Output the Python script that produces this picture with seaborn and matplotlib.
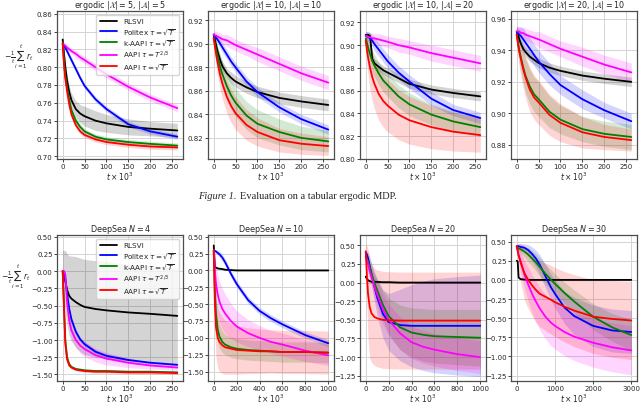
import matplotlib
matplotlib.use("Agg")
import matplotlib.pyplot as plt
import seaborn as sns
from matplotlib.ticker import MultipleLocator

# x grids (t x 10^3)
erg_x = [0, 3, 6, 10, 15, 20, 30, 40, 50, 75, 100, 150, 200, 262]
ds4_x = [0, 3, 6, 10, 15, 20, 30, 40, 50, 75, 100, 150, 200, 262]
ds10_x = [0, 10, 20, 35, 50, 75, 100, 150, 200, 300, 400, 500, 600, 800, 1000]
ds20_x = [0, 10, 20, 35, 50, 75, 100, 150, 200, 300, 400, 500, 600, 800, 1000]
ds30_x = [0, 25, 50, 100, 200, 300, 400, 500, 600, 750, 900, 1000, 1250, 1500, 2000, 2500, 3000]

methods = ["RLSVI", r"Politex $\tau=\sqrt{T}$", r"k-AAPI $\tau=\sqrt{T}$",
           r"AAPI $\tau=T^{2/3}$", r"AAPI $\tau=\sqrt{T}$"]
colors = ["black", "blue", "green", "magenta", "red"]

# ergodic |X|=5, |A|=5
e1_rlsvi = [0.831, 0.815, 0.800, 0.785, 0.772, 0.763, 0.753, 0.748, 0.745, 0.740, 0.737, 0.733, 0.731, 0.729]
e1_rlsvi_sd = [0.003, 0.004, 0.005, 0.006, 0.007, 0.008, 0.009, 0.010, 0.011, 0.011, 0.010, 0.009, 0.008, 0.008]
e1_politex = [0.826, 0.824, 0.822, 0.818, 0.813, 0.808, 0.798, 0.788, 0.779, 0.764, 0.753, 0.736, 0.728, 0.722]
e1_politex_sd = [0.002, 0.003, 0.003, 0.003, 0.003, 0.003, 0.003, 0.003, 0.003, 0.003, 0.003, 0.003, 0.003, 0.003]
e1_kaapi = [0.828, 0.805, 0.790, 0.777, 0.763, 0.752, 0.740, 0.733, 0.728, 0.722, 0.719, 0.716, 0.714, 0.712]
e1_kaapi_sd = [0.003, 0.004, 0.004, 0.004, 0.004, 0.004, 0.004, 0.004, 0.003, 0.003, 0.003, 0.003, 0.003, 0.003]
e1_aapi23 = [0.826, 0.825, 0.824, 0.822, 0.820, 0.818, 0.815, 0.811, 0.808, 0.800, 0.792, 0.778, 0.766, 0.754]
e1_aapi23_sd = [0.003, 0.003, 0.003, 0.003, 0.003, 0.003, 0.004, 0.004, 0.004, 0.004, 0.004, 0.004, 0.004, 0.004]
e1_aapi = [0.827, 0.803, 0.787, 0.773, 0.758, 0.747, 0.735, 0.728, 0.724, 0.719, 0.716, 0.713, 0.711, 0.710]
e1_aapi_sd = [0.003, 0.004, 0.004, 0.004, 0.004, 0.004, 0.003, 0.003, 0.003, 0.003, 0.003, 0.003, 0.003, 0.003]

# ergodic |X|=10, |A|=10
e2_rlsvi = [0.908, 0.903, 0.898, 0.892, 0.886, 0.881, 0.875, 0.871, 0.868, 0.863, 0.859, 0.854, 0.851, 0.848]
e2_rlsvi_sd = [0.003, 0.003, 0.003, 0.004, 0.004, 0.004, 0.004, 0.005, 0.005, 0.005, 0.005, 0.005, 0.005, 0.005]
e2_politex = [0.907, 0.906, 0.905, 0.903, 0.900, 0.897, 0.891, 0.885, 0.880, 0.868, 0.859, 0.846, 0.836, 0.827]
e2_politex_sd = [0.003, 0.003, 0.003, 0.003, 0.004, 0.004, 0.004, 0.004, 0.004, 0.004, 0.004, 0.004, 0.004, 0.004]
e2_kaapi = [0.905, 0.900, 0.894, 0.888, 0.880, 0.874, 0.864, 0.856, 0.850, 0.839, 0.832, 0.825, 0.820, 0.817]
e2_kaapi_sd = [0.004, 0.006, 0.008, 0.009, 0.010, 0.011, 0.012, 0.012, 0.012, 0.012, 0.012, 0.011, 0.010, 0.009]
e2_aapi23 = [0.908, 0.907, 0.907, 0.906, 0.905, 0.904, 0.903, 0.901, 0.899, 0.895, 0.891, 0.883, 0.875, 0.867]
e2_aapi23_sd = [0.004, 0.004, 0.004, 0.004, 0.004, 0.004, 0.005, 0.005, 0.005, 0.005, 0.006, 0.006, 0.006, 0.006]
e2_aapi = [0.905, 0.897, 0.890, 0.882, 0.873, 0.866, 0.855, 0.847, 0.841, 0.831, 0.825, 0.818, 0.815, 0.813]
e2_aapi_sd = [0.005, 0.008, 0.010, 0.011, 0.012, 0.013, 0.014, 0.014, 0.014, 0.013, 0.012, 0.010, 0.009, 0.008]

# ergodic |X|=10, |A|=20
e3_rlsvi = [0.909, 0.909, 0.909, 0.908, 0.888, 0.884, 0.881, 0.878, 0.876, 0.871, 0.866, 0.861, 0.858, 0.855]
e3_rlsvi_sd = [0.003, 0.003, 0.003, 0.003, 0.004, 0.004, 0.004, 0.004, 0.004, 0.004, 0.004, 0.004, 0.004, 0.004]
e3_politex = [0.908, 0.908, 0.907, 0.906, 0.904, 0.901, 0.896, 0.891, 0.886, 0.876, 0.868, 0.853, 0.843, 0.836]
e3_politex_sd = [0.003, 0.004, 0.004, 0.005, 0.005, 0.006, 0.006, 0.006, 0.006, 0.006, 0.006, 0.006, 0.005, 0.005]
e3_kaapi = [0.906, 0.902, 0.897, 0.892, 0.886, 0.882, 0.875, 0.869, 0.865, 0.855, 0.848, 0.839, 0.833, 0.828]
e3_kaapi_sd = [0.004, 0.006, 0.008, 0.009, 0.010, 0.010, 0.010, 0.010, 0.010, 0.010, 0.010, 0.009, 0.009, 0.008]
e3_aapi23 = [0.908, 0.908, 0.907, 0.907, 0.906, 0.906, 0.905, 0.904, 0.903, 0.900, 0.898, 0.893, 0.889, 0.884]
e3_aapi23_sd = [0.003, 0.003, 0.003, 0.004, 0.004, 0.004, 0.005, 0.005, 0.005, 0.006, 0.006, 0.007, 0.007, 0.007]
e3_aapi = [0.904, 0.895, 0.888, 0.880, 0.872, 0.866, 0.857, 0.851, 0.847, 0.839, 0.834, 0.828, 0.824, 0.821]
e3_aapi_sd = [0.006, 0.012, 0.016, 0.019, 0.021, 0.022, 0.023, 0.023, 0.023, 0.022, 0.021, 0.019, 0.017, 0.015]

# ergodic |X|=20, |A|=10
e4_rlsvi = [0.952, 0.950, 0.947, 0.944, 0.941, 0.939, 0.936, 0.934, 0.932, 0.929, 0.927, 0.924, 0.922, 0.920]
e4_rlsvi_sd = [0.004, 0.003, 0.003, 0.003, 0.003, 0.003, 0.003, 0.003, 0.003, 0.003, 0.003, 0.003, 0.003, 0.003]
e4_politex = [0.951, 0.951, 0.950, 0.949, 0.947, 0.945, 0.941, 0.937, 0.933, 0.925, 0.918, 0.909, 0.902, 0.895]
e4_politex_sd = [0.003, 0.004, 0.005, 0.006, 0.007, 0.007, 0.007, 0.007, 0.007, 0.007, 0.006, 0.006, 0.005, 0.005]
e4_kaapi = [0.950, 0.945, 0.940, 0.935, 0.929, 0.924, 0.917, 0.912, 0.909, 0.901, 0.896, 0.890, 0.887, 0.885]
e4_kaapi_sd = [0.004, 0.006, 0.008, 0.009, 0.010, 0.011, 0.011, 0.011, 0.011, 0.010, 0.009, 0.008, 0.008, 0.008]
e4_aapi23 = [0.952, 0.952, 0.952, 0.951, 0.951, 0.950, 0.949, 0.948, 0.947, 0.944, 0.941, 0.936, 0.931, 0.926]
e4_aapi23_sd = [0.003, 0.003, 0.003, 0.003, 0.004, 0.004, 0.004, 0.004, 0.005, 0.005, 0.005, 0.006, 0.006, 0.006]
e4_aapi = [0.950, 0.944, 0.939, 0.934, 0.928, 0.923, 0.915, 0.910, 0.907, 0.899, 0.894, 0.888, 0.885, 0.883]
e4_aapi_sd = [0.005, 0.008, 0.010, 0.011, 0.012, 0.013, 0.014, 0.014, 0.014, 0.013, 0.012, 0.010, 0.008, 0.007]

# DeepSea N=4
d1_rlsvi = [0.0, -0.05, -0.15, -0.27, -0.36, -0.40, -0.45, -0.49, -0.52, -0.55, -0.57, -0.60, -0.62, -0.65]
d1_rlsvi_sd = [0.30, 0.35, 0.45, 0.52, 0.58, 0.62, 0.66, 0.68, 0.69, 0.70, 0.71, 0.70, 0.70, 0.69]
d1_politex = [0.0, -0.01, -0.10, -0.33, -0.55, -0.70, -0.88, -0.99, -1.06, -1.17, -1.23, -1.29, -1.33, -1.36]
d1_politex_sd = [0.01, 0.02, 0.03, 0.04, 0.04, 0.04, 0.04, 0.03, 0.03, 0.03, 0.03, 0.02, 0.02, 0.02]
d1_kaapi = [0.0, -0.50, -1.00, -1.25, -1.35, -1.39, -1.42, -1.43, -1.44, -1.45, -1.45, -1.46, -1.46, -1.47]
d1_kaapi_sd = [0.01, 0.03, 0.03, 0.03, 0.02, 0.02, 0.02, 0.02, 0.02, 0.02, 0.02, 0.02, 0.02, 0.02]
d1_aapi23 = [0.0, 0.0, -0.05, -0.45, -0.72, -0.86, -1.00, -1.08, -1.13, -1.22, -1.27, -1.33, -1.37, -1.40]
d1_aapi23_sd = [0.01, 0.02, 0.05, 0.08, 0.10, 0.11, 0.11, 0.11, 0.11, 0.10, 0.09, 0.07, 0.05, 0.04]
d1_aapi = [0.0, -0.55, -1.05, -1.28, -1.37, -1.40, -1.43, -1.44, -1.45, -1.46, -1.46, -1.47, -1.47, -1.48]
d1_aapi_sd = [0.01, 0.03, 0.03, 0.03, 0.02, 0.02, 0.02, 0.02, 0.02, 0.02, 0.02, 0.02, 0.02, 0.02]

# DeepSea N=10
d2_rlsvi = [0.37, 0.05, 0.04, 0.03, 0.025, 0.02, 0.01, 0.005, 0.0, 0.0, 0.0, 0.0, 0.0, 0.0, 0.0]
d2_rlsvi_sd = [0.02, 0.02, 0.02, 0.01, 0.01, 0.01, 0.01, 0.01, 0.01, 0.01, 0.01, 0.01, 0.01, 0.01, 0.01]
d2_politex = [0.30, 0.29, 0.28, 0.26, 0.24, 0.19, 0.12, -0.05, -0.20, -0.44, -0.60, -0.71, -0.80, -0.96, -1.08]
d2_politex_sd = [0.02, 0.02, 0.03, 0.04, 0.04, 0.05, 0.05, 0.05, 0.05, 0.05, 0.05, 0.05, 0.05, 0.05, 0.05]
d2_kaapi = [0.30, -0.30, -0.65, -0.88, -0.98, -1.06, -1.10, -1.14, -1.16, -1.18, -1.19, -1.20, -1.21, -1.21, -1.22]
d2_kaapi_sd = [0.05, 0.20, 0.22, 0.20, 0.18, 0.16, 0.15, 0.15, 0.15, 0.15, 0.15, 0.15, 0.15, 0.15, 0.15]
d2_aapi23 = [0.30, 0.00, -0.20, -0.36, -0.46, -0.57, -0.64, -0.75, -0.83, -0.93, -1.00, -1.06, -1.10, -1.19, -1.26]
d2_aapi23_sd = [0.05, 0.25, 0.28, 0.30, 0.30, 0.30, 0.29, 0.26, 0.23, 0.20, 0.18, 0.17, 0.17, 0.16, 0.15]
d2_aapi = [0.30, -0.50, -0.85, -1.00, -1.06, -1.11, -1.14, -1.16, -1.18, -1.19, -1.20, -1.20, -1.21, -1.21, -1.22]
d2_aapi_sd = [0.05, 0.40, 0.45, 0.45, 0.44, 0.42, 0.40, 0.38, 0.36, 0.34, 0.33, 0.32, 0.32, 0.32, 0.32]

# DeepSea N=20
d3_rlsvi = [0.08, 0.05, 0.03, 0.02, 0.01, 0.01, 0.01, 0.005, 0.005, 0.0, 0.0, 0.0, 0.0, 0.0, 0.0]
d3_rlsvi_sd = [0.03, 0.02, 0.02, 0.01, 0.01, 0.01, 0.01, 0.01, 0.01, 0.01, 0.01, 0.01, 0.01, 0.01, 0.01]
d3_politex = [0.40, 0.38, 0.33, 0.22, 0.12, -0.05, -0.20, -0.42, -0.53, -0.57, -0.58, -0.58, -0.58, -0.58, -0.58]
d3_politex_sd = [0.03, 0.05, 0.08, 0.12, 0.15, 0.20, 0.25, 0.32, 0.38, 0.48, 0.55, 0.60, 0.63, 0.66, 0.68]
d3_kaapi = [0.35, 0.32, 0.28, 0.20, 0.12, 0.00, -0.10, -0.30, -0.45, -0.60, -0.67, -0.70, -0.72, -0.73, -0.74]
d3_kaapi_sd = [0.05, 0.05, 0.06, 0.08, 0.10, 0.12, 0.15, 0.20, 0.24, 0.30, 0.33, 0.35, 0.36, 0.37, 0.38]
d3_aapi23 = [0.35, 0.30, 0.25, 0.15, 0.07, -0.05, -0.16, -0.36, -0.50, -0.68, -0.80, -0.86, -0.90, -0.96, -1.00]
d3_aapi23_sd = [0.05, 0.06, 0.08, 0.10, 0.12, 0.15, 0.18, 0.20, 0.21, 0.22, 0.22, 0.22, 0.22, 0.22, 0.22]
d3_aapi = [0.42, 0.10, -0.15, -0.33, -0.41, -0.46, -0.48, -0.50, -0.505, -0.51, -0.51, -0.51, -0.51, -0.51, -0.51]
d3_aapi_sd = [0.10, 0.40, 0.60, 0.68, 0.66, 0.65, 0.65, 0.65, 0.65, 0.65, 0.65, 0.65, 0.65, 0.65, 0.65]

# DeepSea N=30
d4_rlsvi = [0.25, 0.24, 0.03, 0.01, 0.005, 0.0, 0.0, 0.0, 0.0, 0.0, 0.0, 0.0, 0.0, 0.0, 0.0, 0.0, 0.0]
d4_rlsvi_sd = [0.02, 0.02, 0.01, 0.01, 0.01, 0.01, 0.01, 0.01, 0.01, 0.01, 0.01, 0.01, 0.01, 0.01, 0.01, 0.01, 0.01]
d4_politex = [0.44, 0.44, 0.44, 0.43, 0.42, 0.39, 0.34, 0.28, 0.20, 0.05, -0.10, -0.18, -0.36, -0.47, -0.60, -0.66, -0.68]
d4_politex_sd = [0.02, 0.03, 0.03, 0.04, 0.05, 0.07, 0.09, 0.11, 0.13, 0.15, 0.17, 0.18, 0.21, 0.24, 0.27, 0.28, 0.28]
d4_kaapi = [0.42, 0.42, 0.41, 0.40, 0.37, 0.33, 0.28, 0.23, 0.17, 0.08, 0.00, -0.05, -0.17, -0.28, -0.48, -0.62, -0.72]
d4_kaapi_sd = [0.02, 0.03, 0.04, 0.05, 0.07, 0.09, 0.10, 0.11, 0.12, 0.13, 0.13, 0.13, 0.14, 0.15, 0.17, 0.18, 0.20]
d4_aapi23 = [0.44, 0.38, 0.32, 0.25, 0.07, -0.06, -0.18, -0.28, -0.37, -0.48, -0.56, -0.60, -0.68, -0.74, -0.82, -0.88, -0.92]
d4_aapi23_sd = [0.03, 0.06, 0.09, 0.13, 0.18, 0.22, 0.25, 0.27, 0.28, 0.29, 0.30, 0.30, 0.31, 0.31, 0.32, 0.32, 0.32]
d4_aapi = [0.44, 0.38, 0.32, 0.23, 0.09, 0.00, -0.07, -0.13, -0.18, -0.22, -0.26, -0.29, -0.35, -0.40, -0.48, -0.51, -0.53]
d4_aapi_sd = [0.03, 0.08, 0.15, 0.25, 0.35, 0.38, 0.40, 0.42, 0.43, 0.44, 0.45, 0.45, 0.46, 0.47, 0.48, 0.50, 0.51]

panels = [
    (r"ergodic $|\mathcal{X}|=5$, $|\mathcal{A}|=5$", erg_x,
     [e1_rlsvi, e1_politex, e1_kaapi, e1_aapi23, e1_aapi],
     [e1_rlsvi_sd, e1_politex_sd, e1_kaapi_sd, e1_aapi23_sd, e1_aapi_sd],
     (0.697, 0.863), 0.02, (-13, 275), 50),
    (r"ergodic $|\mathcal{X}|=10$, $|\mathcal{A}|=10$", erg_x,
     [e2_rlsvi, e2_politex, e2_kaapi, e2_aapi23, e2_aapi],
     [e2_rlsvi_sd, e2_politex_sd, e2_kaapi_sd, e2_aapi23_sd, e2_aapi_sd],
     (0.802, 0.928), 0.02, (-13, 275), 50),
    (r"ergodic $|\mathcal{X}|=10$, $|\mathcal{A}|=20$", erg_x,
     [e3_rlsvi, e3_politex, e3_kaapi, e3_aapi23, e3_aapi],
     [e3_rlsvi_sd, e3_politex_sd, e3_kaapi_sd, e3_aapi23_sd, e3_aapi_sd],
     (0.800, 0.930), 0.02, (-13, 275), 50),
    (r"ergodic $|\mathcal{X}|=20$, $|\mathcal{A}|=10$", erg_x,
     [e4_rlsvi, e4_politex, e4_kaapi, e4_aapi23, e4_aapi],
     [e4_rlsvi_sd, e4_politex_sd, e4_kaapi_sd, e4_aapi23_sd, e4_aapi_sd],
     (0.871, 0.965), 0.02, (-13, 275), 50),
    (r"DeepSea $N=4$", ds4_x,
     [d1_rlsvi, d1_politex, d1_kaapi, d1_aapi23, d1_aapi],
     [d1_rlsvi_sd, d1_politex_sd, d1_kaapi_sd, d1_aapi23_sd, d1_aapi_sd],
     (-1.595, 0.524), 0.25, (-13, 275), 50),
    (r"DeepSea $N=10$", ds10_x,
     [d2_rlsvi, d2_politex, d2_kaapi, d2_aapi23, d2_aapi],
     [d2_rlsvi_sd, d2_politex_sd, d2_kaapi_sd, d2_aapi23_sd, d2_aapi_sd],
     (-1.64, 0.525), 0.25, (-50, 1050), 200),
    (r"DeepSea $N=20$", ds20_x,
     [d3_rlsvi, d3_politex, d3_kaapi, d3_aapi23, d3_aapi],
     [d3_rlsvi_sd, d3_politex_sd, d3_kaapi_sd, d3_aapi23_sd, d3_aapi_sd],
     (-1.32, 0.638), 0.25, (-50, 1050), 200),
    (r"DeepSea $N=30$", ds30_x,
     [d4_rlsvi, d4_politex, d4_kaapi, d4_aapi23, d4_aapi],
     [d4_rlsvi_sd, d4_politex_sd, d4_kaapi_sd, d4_aapi23_sd, d4_aapi_sd],
     (-1.32, 0.586), 0.25, (-150, 3150), 1000),
]

sns.set_theme(style="whitegrid", rc={
    "axes.edgecolor": "0.3", "axes.linewidth": 0.9,
    "grid.color": "0.83", "grid.linewidth": 0.7,
    "xtick.bottom": True, "ytick.left": True,
    "xtick.major.size": 2, "ytick.major.size": 2,
    "xtick.major.width": 0.6, "ytick.major.width": 0.6,
    "xtick.major.pad": 1.0, "ytick.major.pad": 1.2,
    "xtick.color": "0.15", "ytick.color": "0.15",
})
plt.rcParams["font.family"] = ["DejaVu Sans"]

W, H = 640, 406
fig = plt.figure(figsize=(W / 100, H / 100), dpi=100)

lefts = [57, 208, 360, 511]
width = 126
rows = [(12, 160), (236, 382)]

ylab = r"$-\frac{1}{t}\sum_{i=1}^{t}r_t$"

for k, (title, xs, ys, sds, ylim, ystep, xlim, xstep) in enumerate(panels):
    r, c = divmod(k, 4)
    top, bot = rows[r]
    ax = fig.add_axes([lefts[c] / W, 1 - bot / H, width / W, (bot - top) / H])
    for name, col, y, sd in zip(methods, colors, ys, sds):
        lo = [a - b for a, b in zip(y, sd)]
        hi = [a + b for a, b in zip(y, sd)]
        ax.fill_between(xs, lo, hi, color=col, alpha=0.17, lw=0)
        sns.lineplot(x=xs, y=y, ax=ax, color=col, lw=1.3,
                     label=name if c == 0 else None)
    ax.set_xlim(*xlim)
    ax.set_ylim(*ylim)
    ax.xaxis.set_major_locator(MultipleLocator(xstep))
    ax.yaxis.set_major_locator(MultipleLocator(ystep))
    ax.tick_params(labelsize=5)
    ax.set_title(title, fontsize=5.8, pad=3)
    ax.set_xlabel(r"$t\times10^3$", fontsize=5.5, labelpad=0)
    if c == 0:
        ax.set_ylabel(ylab, fontsize=5.5, rotation=0)
        ax.yaxis.set_label_coords(-0.30 if r == 0 else -0.325,
                                  0.6 if r == 0 else 0.62)
        ax.legend(loc="upper right", fontsize=5.2, frameon=True,
                  handlelength=2.4, labelspacing=0.2, borderpad=0.5,
                  framealpha=0.8, edgecolor="0.8", fancybox=True)
    else:
        leg = ax.get_legend()
        if leg is not None:
            leg.remove()

# caption between the rows
cap_y = 1 - 197 / H
t1 = fig.text(198 / W, cap_y, "Figure 1.", fontsize=7.5, style="italic",
              family="Liberation Serif", va="center", ha="left")
fig.canvas.draw()
bb = t1.get_window_extent()
fig.text((bb.x1 + 3) / W, cap_y, "Evaluation on a tabular ergodic MDP.",
         fontsize=7.5, family="Liberation Serif", va="center", ha="left")

fig.savefig("out.png", dpi=100)
